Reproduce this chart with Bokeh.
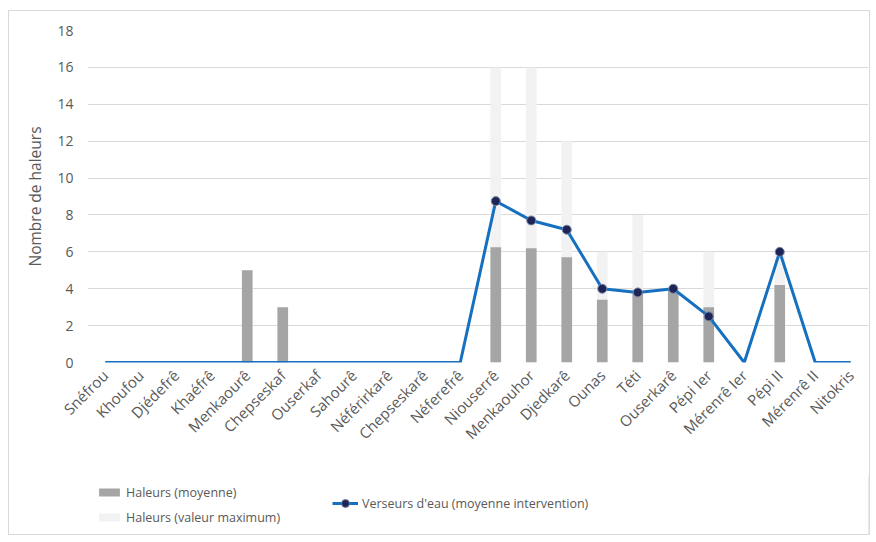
import math
from bokeh.plotting import figure
from bokeh.layouts import column
from bokeh.models import ColumnDataSource, Legend, LegendItem, Range1d, FixedTicker
from bokeh.embed import file_html
from bokeh.resources import INLINE

# Rois de l'Ancien Empire (IVe - VIe dynastie)
rois = ["Snéfrou", "Khoufou", "Djédefrê", "Khaéfrê", "Menkaourê", "Chepseskaf",
        "Ouserkaf", "Sahourê", "Néférirkarê", "Chepseskarê", "Néferefrê",
        "Niouserrê", "Menkaouhor", "Djedkarê", "Ounas", "Téti", "Ouserkarê",
        "Pépi Ier", "Mérenrê Ier", "Pépi II", "Mérenrê II", "Nitokris"]

haleurs_moyenne = [0, 0, 0, 0, 5, 3, 0, 0, 0, 0, 0,
                   6.25, 6.2, 5.7, 3.4, 3.75, 3.9, 3.0, 0, 4.2, 0, 0]
haleurs_maximum = [0, 0, 0, 0, 5, 3, 0, 0, 0, 0, 0,
                   16, 16, 12, 6, 8, 4, 6, 0, 6, 0, 0]
verseurs_eau = [0, 0, 0, 0, 0, 0, 0, 0, 0, 0, 0,
                8.75, 7.7, 7.2, 4.0, 3.8, 4.0, 2.5, 0, 6.0, 0, 0]

y_ticks = [0, 2, 4, 6, 8, 10, 12, 14, 16, 18]

FONT = "Open Sans"
TXT = "#595959"
C_MOY = "#a5a5a5"
C_MAX = "#f2f2f2"
C_LINE = "#1570c0"
C_PT = "#1c2458"
C_PT_EDGE = "#7d87a3"

src = ColumnDataSource(dict(roi=rois, moy=haleurs_moyenne, maxi=haleurs_maximum,
                            eau=verseurs_eau))
pts = ColumnDataSource(dict(
    roi=[r for r, v in zip(rois, verseurs_eau) if v > 0],
    eau=[v for v in verseurs_eau if v > 0]))

p = figure(x_range=rois, y_range=Range1d(0, 18), width=860, height=464,
           output_backend="svg", toolbar_location=None,
           min_border_left=78, min_border_right=1, min_border_top=19,
           min_border_bottom=113)
p.outline_line_color = None

p.vbar(x="roi", top="maxi", width=0.3, source=src, fill_color=C_MAX, line_color=None)
p.vbar(x="roi", top="moy", width=0.3, source=src, fill_color=C_MOY, line_color=None)
p.line(x="roi", y="eau", source=src, line_color=C_LINE, line_width=3)
p.scatter(x="roi", y="eau", source=pts, size=9, fill_color=C_PT,
          line_color=C_PT_EDGE, line_width=1)

p.xgrid.grid_line_color = None
p.ygrid.grid_line_color = "#d9d9d9"
p.ygrid.grid_line_width = 1

p.yaxis.ticker = FixedTicker(ticks=y_ticks)
p.yaxis.axis_line_color = None
p.yaxis.major_tick_line_color = None
p.yaxis.minor_tick_line_color = None
p.yaxis.major_label_text_font = FONT
p.yaxis.major_label_text_font_size = "14px"
p.yaxis.major_label_text_color = TXT
p.yaxis.major_label_standoff = 8
p.yaxis.axis_label = "Nombre de haleurs"
p.yaxis.axis_label_text_font = FONT
p.yaxis.axis_label_text_font_size = "15.5px"
p.yaxis.axis_label_text_font_style = "normal"
p.yaxis.axis_label_text_color = TXT
p.yaxis.axis_label_standoff = 8

p.xaxis.axis_line_color = None
p.xaxis.major_tick_line_color = None
p.xaxis.minor_tick_line_color = None
p.xaxis.major_label_orientation = math.pi / 4
p.xaxis.major_label_text_font = FONT
p.xaxis.major_label_text_font_size = "15px"
p.xaxis.major_label_text_color = TXT
p.xaxis.major_label_standoff = 4

# Legend panel underneath the chart (its frame lines up with the chart's frame)
lf = figure(width=860, height=59, output_backend="svg", toolbar_location=None,
            x_axis_type=None, y_axis_type=None, min_border=0,
            x_range=Range1d(0, 1), y_range=Range1d(0, 1))
lf.outline_line_color = None
lf.grid.grid_line_color = None
# off-range samples: only their legend swatches are visible
g_moy = lf.vbar(x=[5], top=[1], width=0.3, fill_color=C_MOY, line_color=None)
g_max = lf.vbar(x=[5], top=[1], width=0.3, fill_color=C_MAX, line_color=None)
g_line = lf.line(x=[5, 6], y=[5, 6], line_color=C_LINE, line_width=3)
g_pt = lf.scatter(x=[5], y=[5], size=9, fill_color=C_PT, line_color=C_PT_EDGE,
                  line_width=1)


def make_legend(items, loc, glyph_height):
    return Legend(items=items, location=loc, orientation="vertical",
                  glyph_width=26, glyph_height=glyph_height, label_height=20,
                  spacing=5, label_standoff=4, padding=0, margin=0,
                  border_line_color=None, background_fill_alpha=0,
                  label_text_font=FONT, label_text_font_size="12.5px",
                  label_text_color=TXT)


lf.add_layout(make_legend(
    [LegendItem(label="Haleurs (moyenne)", renderers=[g_moy]),
     LegendItem(label="Haleurs (valeur maximum)", renderers=[g_max])], (9, 7), 10))
lf.add_layout(make_legend(
    [LegendItem(label="Verseurs d'eau (moyenne intervention)",
                renderers=[g_line, g_pt])], (245, 21), 20))

page = column(p, lf, margin=(10, 0, 0, 8), spacing=0)
page.styles = {"border": "1px solid #d9d9d9"}

open("out.html", "w").write(file_html(page, INLINE))
